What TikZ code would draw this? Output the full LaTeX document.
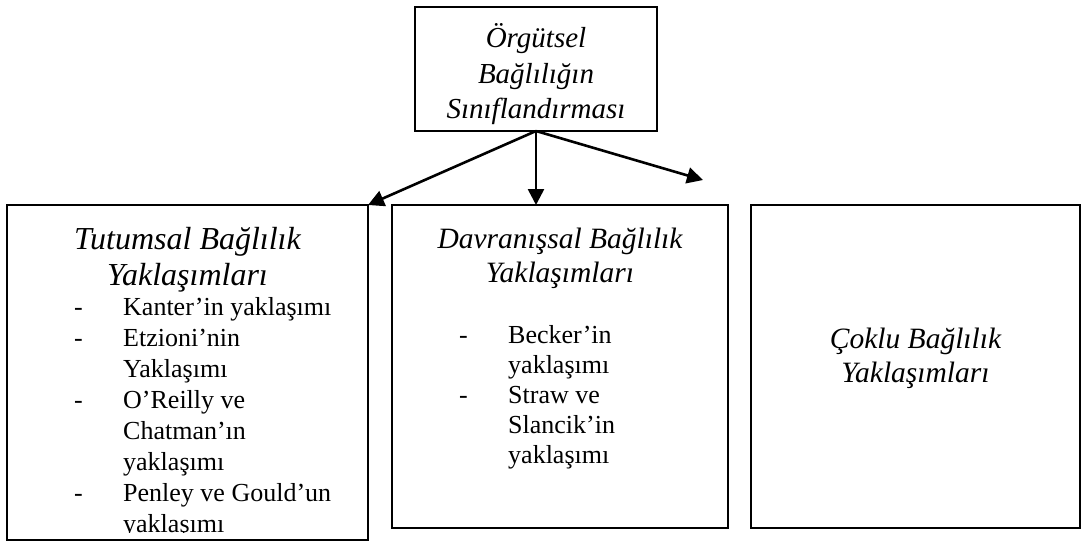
\documentclass[tikz,border=0pt]{standalone}
\usepackage{fontspec}
\setmainfont{Liberation Serif}
\usetikzlibrary{arrows.meta}

\begin{document}
\begin{tikzpicture}[x=1pt, y=-1pt,
  frame/.style={draw, line width=1.8pt, inner sep=0pt, outer sep=0pt},
  link/.style={line width=2.6pt, -{Triangle[length=16pt, width=16pt]}},
  head/.style={font=\itshape\fontsize{29.5pt}{35pt}\selectfont, anchor=base, inner sep=0pt},
  roothead/.style={font=\itshape\fontsize{29pt}{35pt}\selectfont, anchor=base, inner sep=0pt},
  bighead/.style={font=\itshape\fontsize{32pt}{36pt}\selectfont, anchor=base, inner sep=0pt},
  item/.style={font=\fontsize{26pt}{31pt}\selectfont, anchor=base west, inner sep=0pt}]

\useasboundingbox (0,0) rectangle (1083,543);

% boxes
\node[frame, minimum width=242pt, minimum height=124pt] (root) at (536,69) {};
\node[frame, minimum width=361pt, minimum height=335pt] (att) at (187.5,372.5) {};
\node[frame, minimum width=336pt, minimum height=323pt] (beh) at (560,366.5) {};
\node[frame, minimum width=329pt, minimum height=323pt] (mul) at (915.5,366.5) {};
\coordinate (free) at (703,180);

% top heading
\node[roothead] (r1) at (536,48) {Örgütsel};
\node[roothead] (r2) at (536,83) {Bağlılığın};
\node[roothead] (r3) at (536,118) {Sınıflandırması};

% connectors
\draw[link] (root.south) -- (att.north east);
\draw[link] (root.south) -- (root.south |- beh.north);
\draw[link] (root.south) -- (free);

% attitudinal approaches
\node[bighead] (a1) at (187.5,249) {Tutumsal Bağlılık};
\node[bighead] (a2) at (187.5,285) {Yaklaşımları};
\begin{scope}
  \clip (8,206) rectangle (367,532);
  \node[item] (ad1) at (74,315) {-};
  \node[item] (ai1) at (123,315) {Kanter’in yaklaşımı};
  \node[item] (ad2) at (74,346) {-};
  \node[item] (ai2) at (123,346) {Etzioni’nin};
  \node[item] (ai3) at (123,377) {Yaklaşımı};
  \node[item] (ad3) at (74,408) {-};
  \node[item] (ai4) at (123,408) {O’Reilly ve};
  \node[item] (ai5) at (123,439) {Chatman’ın};
  \node[item] (ai6) at (123,470) {yaklaşımı};
  \node[item] (ad4) at (74,501) {-};
  \node[item] (ai7) at (123,501) {Penley ve Gould’un};
  \node[item] (ai8) at (123,532) {yaklaşımı};
\end{scope}

% behavioural approaches
\node[head] (b1) at (560,248) {Davranışsal Bağlılık};
\node[head] (b2) at (560,282) {Yaklaşımları};
\node[item] (bd1) at (459,343) {-};
\node[item] (bi1) at (508,343) {Becker’in};
\node[item] (bi2) at (508,373) {yaklaşımı};
\node[item] (bd2) at (459,403) {-};
\node[item] (bi3) at (508,403) {Straw ve};
\node[item] (bi4) at (508,433) {Slancik’in};
\node[item] (bi5) at (508,463) {yaklaşımı};

% multiple commitment approaches
\node[head] (m1) at (915.5,348) {Çoklu Bağlılık};
\node[head] (m2) at (915.5,382) {Yaklaşımları};

\end{tikzpicture}
\end{document}
